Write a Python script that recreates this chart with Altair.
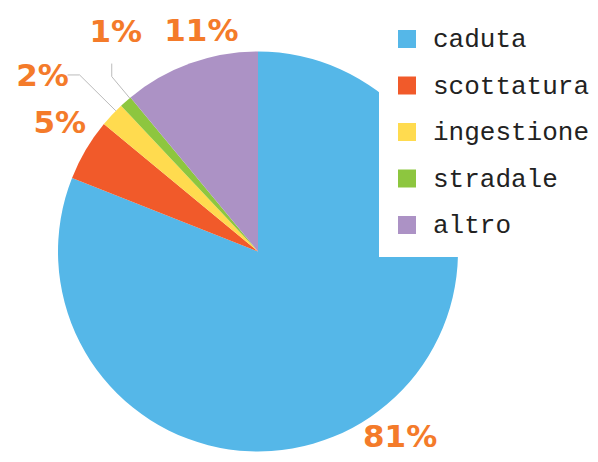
import altair as alt
import pandas as pd
import numpy as np

# ---- data ----
categories = ["caduta", "scottatura", "ingestione", "stradale", "altro"]
values = [81, 5, 2, 1, 11]
colors = ["#55B7E8", "#F15A2A", "#FFDB4F", "#8DC63F", "#AC92C5"]

# ---- layout (pixels, chart coordinates) ----
W, H = 582, 446
CX, CY, R = 250, 243.5, 200
LABEL_R = 235
# plain labels: nudge from the point at LABEL_R on the slice's mid angle
label_nudge = {"caduta": (10, -8), "scottatura": (4, -8), "altro": (23, 2)}
# leader labels: elbow radius, elbow->end offset, end->label-centre offset
leader = {
    "ingestione": dict(r=251, end=(-12, 0), lab=(-25, 2)),
    "stradale": dict(r=228, end=(0, -13), lab=(4, -31)),
}
ANG_SHIFT = np.deg2rad(1.5)

df = pd.DataFrame({"cat": categories, "val": values, "ord": range(len(values))})
df["label"] = df["val"].astype(str) + "%"
tot = df["val"].sum()
cum = df["val"].cumsum()
df["mid"] = (cum - df["val"] / 2) / tot * 2 * np.pi


def pol(r, a):
    return CX + r * np.sin(a), CY - r * np.cos(a)


lab_rows, line_rows = [], []
for _, row in df.iterrows():
    c, a = row["cat"], row["mid"]
    if c in leader:
        L = leader[c]
        a2 = a + ANG_SHIFT
        sx, sy = pol(R, a2)
        ex, ey = pol(L["r"], a2)
        fx, fy = ex + L["end"][0], ey + L["end"][1]
        for i, (px, py) in enumerate([(sx, sy), (ex, ey), (fx, fy)]):
            line_rows.append({"cat": c, "i": i, "px": px, "py": py})
        lab_rows.append({"cat": c, "label": row["label"],
                         "lx": fx + L["lab"][0], "ly": fy + L["lab"][1]})
    else:
        bx, by = pol(LABEL_R, a)
        nx, ny = label_nudge.get(c, (0, 0))
        lab_rows.append({"cat": c, "label": row["label"], "lx": bx + nx, "ly": by + ny})

labels_df = pd.DataFrame(lab_rows)
lines_df = pd.DataFrame(line_rows)

pie = alt.Chart(df).mark_arc(radius=R).encode(
    theta=alt.Theta("val:Q", stack=True),
    order=alt.Order("ord:Q"),
    x=alt.value(CX),
    y=alt.value(CY),
    color=alt.Color(
        "cat:N",
        scale=alt.Scale(domain=categories, range=colors),
        legend=alt.Legend(
            orient="none", legendX=371, legendY=-1, fillColor="white",
            padding=19, title=None, symbolType="square", symbolSize=324,
            symbolStrokeWidth=0, symbolOpacity=1, symbolOffset=-4,
            labelFont="Liberation Mono",
            labelFontSize=26, labelColor="#222222", labelOffset=13,
            rowPadding=20.5, labelLimit=400,
        ),
    ),
)

leaders = alt.Chart(lines_df).mark_line(color="#BBBBBB", strokeWidth=1).encode(
    x=alt.X("px:Q", scale=None),
    y=alt.Y("py:Q", scale=None),
    detail="cat:N",
    order="i:Q",
)

texts = alt.Chart(labels_df).mark_text(
    font="DejaVu Sans", fontWeight="bold", fontSize=31, color="#F47B2A",
    align="center", baseline="middle",
).encode(
    x=alt.X("lx:Q", scale=None),
    y=alt.Y("ly:Q", scale=None),
    text="label:N",
)

chart = alt.layer(pie, leaders, texts).properties(
    width=W, height=H, autosize=alt.AutoSizeParams(type="none"), padding=0
).configure_view(stroke=None)

chart.save("out.html", embed_options={"renderer": "svg", "actions": False})
